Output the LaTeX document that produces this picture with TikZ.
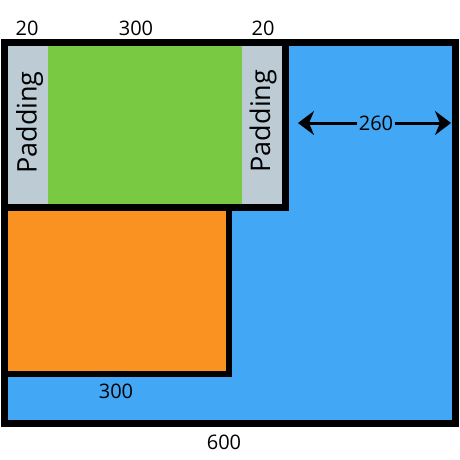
\documentclass[tikz,border=0pt]{standalone}
\usepackage{fontspec}
\setmainfont{Open Sans}
\usetikzlibrary{arrows.meta}
\definecolor{boxblue}{RGB}{66,167,244}
\definecolor{boxgreen}{RGB}{122,201,67}
\definecolor{boxgray}{RGB}{189,203,213}
\definecolor{boxorange}{RGB}{250,146,34}
\tikzset{
  frame/.style={draw=black, line width=7pt},
  lbl/.style={inner sep=0pt, font=\fontsize{20}{20}\selectfont},
  padlbl/.style={inner sep=0pt, rotate=90, font=\fontsize{27}{27}\selectfont},
  dimtip/.tip={Stealth[length=16pt,width=24pt,inset=5pt]},
}
\begin{document}
\begin{tikzpicture}[x=1pt,y=-1pt]
\useasboundingbox (0,0) rectangle (460,459);
% outer blue box
\draw[frame, fill=boxblue] (4.5,42.5) rectangle (455,423.5);
% orange box
\draw[frame, line width=6pt, fill=boxorange] (4.5,207) rectangle (229,374);
% padding box
\fill[boxgray] (4.5,42.5) rectangle (285,207);
\fill[boxgreen] (48,46) rectangle (242,204);
\draw[frame] (4.5,42.5) rectangle (285,207);
% labels
\node[lbl] (t20a) at (27,28) {20};
\node[lbl] (t300a) at (136,28) {300};
\node[lbl] (t20b) at (263,28) {20};
\node[padlbl] (padl) at (29.5,122.5) {Padding};
\node[padlbl] (padr) at (263,121) {Padding};
\node[lbl] (t300b) at (116,391) {300};
\node[lbl] (t600) at (224,442) {600};
% 260 arrow
\coordinate (al) at (298,123);
\coordinate (ar) at (451,123);
\draw[line width=3pt, dimtip-dimtip] (al) -- (ar);
\node[lbl, fill=boxblue, inner xsep=1.5pt, inner ysep=2pt] (t260) at (376,123) {260};
\end{tikzpicture}
\end{document}
